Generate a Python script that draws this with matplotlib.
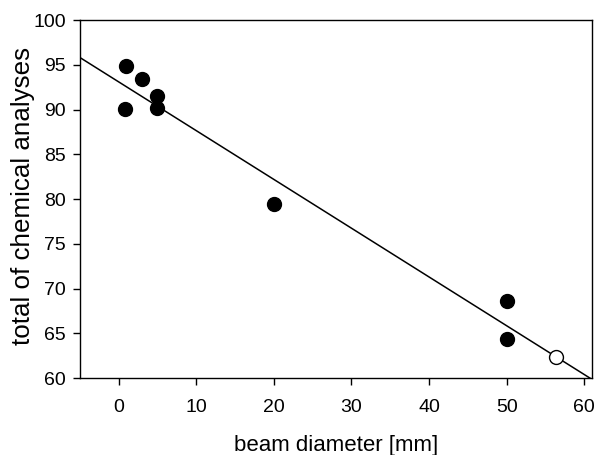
import numpy as np
import matplotlib
matplotlib.use('Agg')
import matplotlib.pyplot as plt

plt.rcParams['font.family'] = ['Liberation Sans', 'DejaVu Sans']

# measured samples
beam_diameter = [1, 3, 5, 0.8, 5, 20, 50, 50]
total_analyses = [94.9, 93.4, 91.5, 90.1, 90.2, 79.4, 68.6, 64.4]

# extrapolated point (open symbol)
extrap_diameter = [56.4]
extrap_total = [62.4]

# regression line parameters
intercept = 93.1
slope = -0.545

fig = plt.figure(figsize=(5.95, 4.55), dpi=100)
ax = fig.add_axes([0.134, 0.169, 0.861, 0.787])

xfit = np.array([-5, 61])
ax.plot(xfit, intercept + slope * xfit, color='black', lw=1.1, zorder=1)
ax.plot(beam_diameter, total_analyses, 'o', color='black', ms=10, zorder=2)
ax.plot(extrap_diameter, extrap_total, 'o', mfc='white', mec='black',
        mew=1.0, ms=10, zorder=3)

ax.set_xlim(-5, 61)
ax.set_ylim(60, 100)
ax.set_xticks(np.arange(0, 61, 10))
ax.set_yticks(np.arange(60, 101, 5))
ax.tick_params(direction='out', length=5, width=1, labelsize=14)
ax.tick_params(axis='x', pad=10)
ax.tick_params(axis='y', pad=5)
for s in ax.spines.values():
    s.set_linewidth(1)

ax.set_xlabel('beam diameter [mm]', fontsize=16, labelpad=14)
ax.set_ylabel('total of chemical analyses', fontsize=18.7)
ax.yaxis.set_label_coords(-0.088, 0.51)

fig.savefig('out.png', dpi=100)
